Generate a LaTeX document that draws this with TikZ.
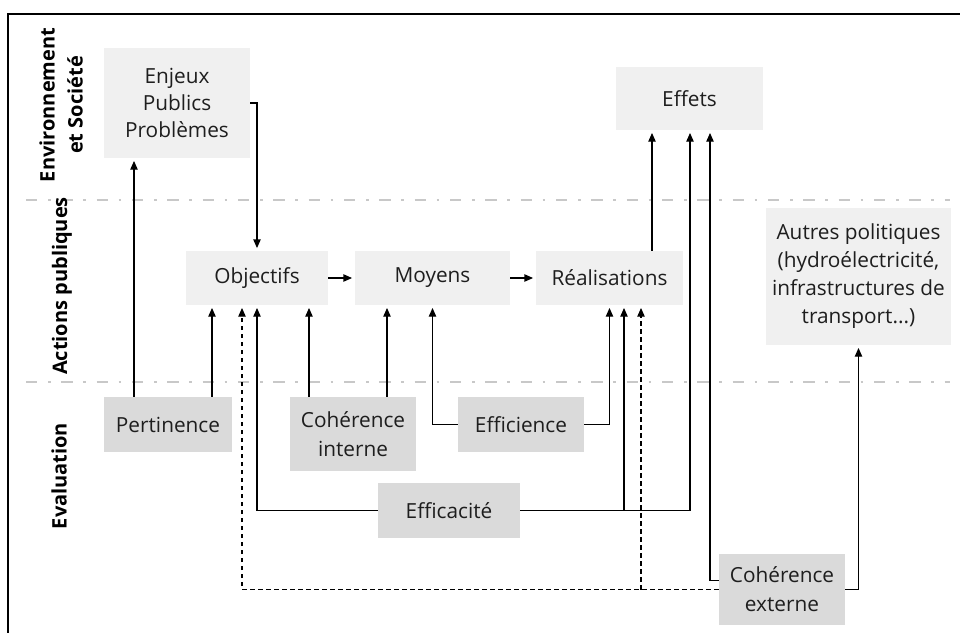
\documentclass[tikz,border=0pt]{standalone}
\usepackage{fontspec}
\setmainfont{Open Sans}
\usetikzlibrary{arrows.meta}

\definecolor{boxLight}{RGB}{240,240,240}
\definecolor{boxDark}{RGB}{218,218,218}
\definecolor{textColor}{RGB}{30,30,30}
\definecolor{sepColor}{RGB}{200,200,200}

\tikzset{
  box/.style={inner sep=0pt, align=center, text=textColor, font=\fontsize{15.6}{20.25}\selectfont},
  lightbox/.style={box, fill=boxLight},
  darkbox/.style={box, fill=boxDark},
  lane/.style={rotate=90, align=center, inner sep=0pt, font=\bfseries\fontsize{15}{21}\selectfont},
  arr/.style={draw=black, line width=0.9pt, -{Triangle[length=6.5pt,width=5.5pt]}, shorten >=2pt},
  dsh/.style={arr, dash pattern=on 3.5pt off 2.5pt},
  sep/.style={draw=sepColor, line width=2.2pt, dash pattern=on 8.5pt off 8pt on 2pt off 8pt},
}

\begin{document}
\begin{tikzpicture}[x=0.75pt,y=-0.75pt]
\path[use as bounding box] (0,0) rectangle (960,633);

% frame and lane separators
\draw[line width=1.5pt] (960,14) -- (8,14) -- (8,633);
\draw[sep] (26,200) -- (950,200);
\draw[sep] (26,382) -- (950,382);

% lane titles
\node[lane] (envLab) at (61,105) {Environnement\\et Société};
\node[lane] (actLab) at (62,286) {Actions publiques};
\node[lane] (evaLab) at (59,476) {Evaluation};

% top row
\node[lightbox, minimum width=146*0.75pt, minimum height=110*0.75pt] (enjeux) at (177,103) {Enjeux\\Publics\\Problèmes};
\node[lightbox, minimum width=147*0.75pt, minimum height=63*0.75pt] (effets) at (689.5,98.5) {Effets};

% actions
\node[lightbox, minimum width=142*0.75pt, minimum height=54*0.75pt] (objectifs) at (257,278) {Objectifs};
\node[lightbox, minimum width=155*0.75pt, minimum height=54*0.75pt] (moyens) at (432.5,278) {Moyens};
\node[lightbox, minimum width=147*0.75pt, minimum height=54*0.75pt] (realisations) at (609.5,278) {Réalisations};
\node[lightbox, minimum width=185*0.75pt, minimum height=137*0.75pt, font=\fontsize{15.6}{21}\selectfont] (autres) at (858.5,276.5) {Autres politiques\\(hydroélectricité,\\infrastructures de\\transport...)};

% evaluation
\node[darkbox, minimum width=128*0.75pt, minimum height=55*0.75pt] (pertinence) at (168,424.5) {Pertinence};
\node[darkbox, minimum width=126*0.75pt, minimum height=74*0.75pt, font=\fontsize{15.6}{21.75}\selectfont] (cohInt) at (353,434) {Cohérence\\interne};
\node[darkbox, minimum width=126*0.75pt, minimum height=55*0.75pt] (efficience) at (521,424.5) {Efficience};
\node[darkbox, minimum width=142*0.75pt, minimum height=55*0.75pt] (efficacite) at (449,510.5) {Efficacité};
\node[darkbox, minimum width=126*0.75pt, minimum height=71*0.75pt, font=\fontsize{15.6}{21.75}\selectfont] (cohExt) at (782,589.5) {Cohérence\\externe};

% columns of the vertical connectors
\coordinate (pe1) at (134,0);
\coordinate (pe2) at (212,0);
\coordinate (ds1) at (242,0);
\coordinate (ob1) at (257,0);
\coordinate (ci1) at (309,0);
\coordinate (ci2) at (387,0);
\coordinate (ea1) at (624,0);
\coordinate (ds2) at (641,0);
\coordinate (re1) at (652,0);
\coordinate (ea2) at (690,0);
\coordinate (ce1) at (710,0);

% chain
\draw[arr] (enjeux.east) -| (ob1 |- objectifs.north);
\draw[arr] (objectifs.east) -- (moyens.west);
\draw[arr] (moyens.east) -- (realisations.west);
\draw[arr] (re1 |- realisations.north) -- (re1 |- effets.south);

% pertinence
\draw[arr] (pe1 |- pertinence.north) -- (pe1 |- enjeux.south);
\draw[arr] (pe2 |- pertinence.north) -- (pe2 |- objectifs.south);

% coherence interne
\draw[arr] (ci1 |- cohInt.north) -- (ci1 |- objectifs.south);
\draw[arr] (ci2 |- cohInt.north) -- (ci2 |- moyens.south);

% efficience
\draw[arr] (efficience.west) -| (moyens.south);
\draw[arr] (efficience.east) -| (realisations.south);

% efficacite
\draw[arr] (efficacite.west) -| (ob1 |- objectifs.south);
\draw[arr] (efficacite.east) -| (ea1 |- realisations.south);
\draw[arr] (efficacite.east) -| (ea2 |- effets.south);

% coherence externe
\draw[arr] ([yshift=7pt]cohExt.west) -| (ce1 |- effets.south);
\draw[arr] (cohExt.east) -| (autres.south);
\draw[dsh] (cohExt.west) -| (ds1 |- objectifs.south);
\draw[dsh] (ds2 |- cohExt.west) -- (ds2 |- realisations.south);
\end{tikzpicture}
\end{document}
